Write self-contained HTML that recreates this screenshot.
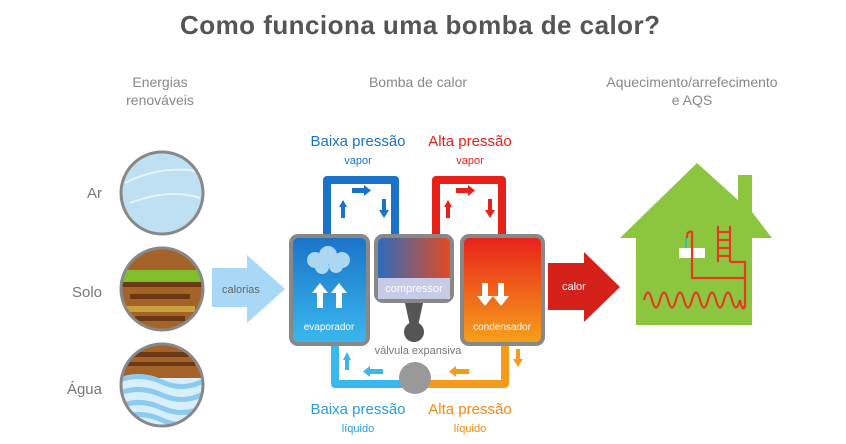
<!DOCTYPE html>
<html><head><meta charset="utf-8"><style>html,body{margin:0;padding:0;background:#fff}svg{display:block}</style></head>
<body>
<svg width="846" height="444" viewBox="0 0 846 444" xmlns="http://www.w3.org/2000/svg" font-family="Liberation Sans, sans-serif">
<defs>
<linearGradient id="evap" x1="0" y1="0" x2="0" y2="1"><stop offset="0" stop-color="#1a73c8"/><stop offset="1" stop-color="#3ab8ee"/></linearGradient>
<linearGradient id="cond" x1="0" y1="0" x2="0" y2="1"><stop offset="0" stop-color="#e8201a"/><stop offset="1" stop-color="#f6a21a"/></linearGradient>
<linearGradient id="comp" x1="0" y1="0" x2="1" y2="0"><stop offset="0" stop-color="#2a6bc0"/><stop offset="1" stop-color="#e84a1e"/></linearGradient>
<linearGradient id="bot" x1="0" y1="0" x2="1" y2="0"><stop offset="0" stop-color="#3ab8ee"/><stop offset="0.5" stop-color="#3ab8ee"/><stop offset="0.5" stop-color="#f59a1a"/><stop offset="1" stop-color="#f59a1a"/></linearGradient>
<clipPath id="c1"><circle cx="162" cy="193" r="40"/></clipPath>
<clipPath id="c2"><circle cx="162" cy="289" r="40"/></clipPath>
<clipPath id="c3"><circle cx="162" cy="385" r="40"/></clipPath>
</defs>
<text x="420" y="34" text-anchor="middle" font-size="26" font-weight="bold" fill="#555" textLength="480">Como funciona uma bomba de calor?</text>
<g font-size="14" fill="#888" text-anchor="middle">
<text x="160" y="87">Energias</text><text x="160" y="105">renováveis</text>
<text x="418" y="87">Bomba de calor</text>
<text x="692" y="87">Aquecimento/arrefecimento</text><text x="692" y="105">e AQS</text>
</g>
<g font-size="15" fill="#777" text-anchor="end">
<text x="102" y="198">Ar</text><text x="102" y="297">Solo</text><text x="102" y="394">Água</text>
</g>
<g clip-path="url(#c1)"><rect x="120" y="150" width="90" height="90" fill="#bfe0f2"/><path d="M125 183 Q165 163 205 173 M130 203 Q170 188 200 198" stroke="#e6f4fb" stroke-width="2" fill="none"/></g>
<circle cx="162" cy="193" r="41" fill="none" stroke="#888" stroke-width="3"/>
<g clip-path="url(#c2)"><rect x="120" y="245" width="90" height="90" fill="#a5632a"/><rect x="120" y="270" width="90" height="12" fill="#7fbf2a"/><rect x="120" y="282" width="90" height="5" fill="#6b3a14"/><rect x="130" y="294" width="60" height="5" fill="#6b3a14"/><rect x="125" y="306" width="70" height="6" fill="#c9a040"/><rect x="135" y="316" width="50" height="5" fill="#6b3a14"/></g>
<circle cx="162" cy="289" r="41" fill="none" stroke="#888" stroke-width="3"/>
<g clip-path="url(#c3)"><rect x="120" y="340" width="90" height="90" fill="#a5632a"/><rect x="130" y="352" width="60" height="5" fill="#6b3a14"/><rect x="125" y="362" width="70" height="4" fill="#6b3a14"/><rect x="120" y="378" width="90" height="50" fill="#d8eefa"/><path d="M120 380 Q140 372 162 382 T205 380 M120 393 Q140 385 162 395 T205 393 M120 406 Q140 398 162 408 T205 406 M120 418 Q140 410 162 420 T205 418" stroke="#8ccbf0" stroke-width="5" fill="none"/></g>
<circle cx="162" cy="385" r="41" fill="none" stroke="#888" stroke-width="3"/>
<polygon points="212,268 247,268 247,255 285,289 247,323 247,307 212,307" fill="#a8d8f6"/>
<text x="222" y="293" font-size="11" fill="#666">calorias</text>
<path d="M327 236 V180 H395 V236" stroke="#1a73c8" stroke-width="8" fill="none" stroke-linejoin="round"/>
<path d="M436 236 V180 H502 V236" stroke="#e8201a" stroke-width="8" fill="none" stroke-linejoin="round"/>
<path d="M335 344 V384 H505 V344" stroke="url(#bot)" stroke-width="8" fill="none" stroke-linejoin="round"/>
<g fill="#1a73c8"><polygon points="339,207 343,200 347,207"/><rect x="341" y="206" width="4" height="12"/><rect x="352" y="188" width="13" height="5"/><polygon points="364,185 371,190.5 364,196"/><rect x="382" y="199" width="4" height="12"/><polygon points="379,210 384,218 389,210"/></g>
<g fill="#e8201a"><polygon points="444,207 448,200 452,207"/><rect x="446" y="206" width="4" height="12"/><rect x="456" y="188" width="13" height="5"/><polygon points="468,185 475,190.5 468,196"/><rect x="488" y="199" width="4" height="12"/><polygon points="485,210 490,218 495,210"/></g>
<g fill="#3ab8ee"><polygon points="343,360 347,352 351,360"/><rect x="345" y="359" width="4" height="11"/><rect x="370" y="369" width="13" height="5"/><polygon points="370,366 363,371.5 370,377"/></g>
<g fill="#f59a1a"><polygon points="456,366 449,371.5 456,377"/><rect x="456" y="369" width="13" height="5"/><rect x="516" y="349" width="4" height="11"/><polygon points="513,359 518,367 523,359"/></g>
<polygon points="405,303 423,303 418,326 410,326" fill="#555"/>
<circle cx="414" cy="332" r="10" fill="#555"/>
<circle cx="415" cy="378" r="16" fill="#999"/>
<text x="418" y="354" font-size="11" fill="#777" text-anchor="middle">válvula expansiva</text>
<rect x="291" y="236" width="77" height="108" rx="7" fill="url(#evap)" stroke="#888" stroke-width="4"/>
<g fill="#c5e6fa" opacity="0.85"><circle cx="315" cy="260" r="8"/><circle cx="328" cy="255" r="9"/><circle cx="342" cy="260" r="8"/><circle cx="322" cy="267" r="7"/><circle cx="336" cy="266" r="7"/></g>
<g fill="#fff"><polygon points="312,293 320,283 328,293"/><rect x="317" y="292" width="6" height="16"/><polygon points="331,293 339,283 347,293"/><rect x="336" y="292" width="6" height="16"/></g>
<text x="329" y="330" font-size="10" fill="#fff" text-anchor="middle">evaporador</text>
<rect x="376" y="236" width="76" height="65" rx="7" fill="url(#comp)" stroke="#888" stroke-width="4"/>
<rect x="378" y="278" width="72" height="21" fill="#c7cbe8"/>
<text x="414" y="292" font-size="11" fill="#fff" text-anchor="middle">compressor</text>
<rect x="462" y="236" width="81" height="108" rx="7" fill="url(#cond)" stroke="#888" stroke-width="4"/>
<g fill="#fff"><rect x="482" y="283" width="6" height="14"/><polygon points="477,296 485,306 493,296"/><rect x="498" y="283" width="6" height="14"/><polygon points="493,296 501,306 509,296"/></g>
<text x="502" y="330" font-size="10" fill="#fff" text-anchor="middle">condensador</text>
<g text-anchor="middle">
<text x="358" y="146" font-size="15" fill="#1a73c8">Baixa pressão</text>
<text x="358" y="164" font-size="11" fill="#1a73c8">vapor</text>
<text x="470" y="146" font-size="15" fill="#e8201a">Alta pressão</text>
<text x="470" y="164" font-size="11" fill="#e8201a">vapor</text>
<text x="358" y="414" font-size="15" fill="#2a9de0">Baixa pressão</text>
<text x="358" y="432" font-size="11" fill="#2a9de0">líquido</text>
<text x="470" y="414" font-size="15" fill="#f08a10">Alta pressão</text>
<text x="470" y="432" font-size="11" fill="#f08a10">líquido</text>
</g>
<polygon points="548,263 584,263 584,252 620,287 584,322 584,310 548,310" fill="#d6201a"/>
<text x="562" y="290" font-size="11" fill="#fff">calor</text>
<polygon points="697,163 738,200 738,175 752,175 752,212 772,238 752,238 752,325 636,325 636,238 620,238" fill="#8cc63f"/>
<rect x="679" y="248" width="26" height="10" fill="#fff"/>
<rect x="685" y="238" width="2" height="10" fill="#3cbf9a"/>
<g stroke="#e53a1e" stroke-width="2.2" fill="none">
<path d="M687 238 Q687 230 692 232 V278 H745 V307"/>
<path d="M718 226 V262 M730 226 V262 M718 232 H730 M718 240 H730 M718 248 H730 M718 256 H730 M730 262 H745 V278"/>
<path d="M745 307 H742 M644 300 Q648 285 652 300 T660 300 T668 300 T676 300 T684 300 T692 300 T700 300 T708 300 T716 300 T724 300 T732 300 T740 300 Q742 312 745 307" />
</g>
</svg>
</body></html>
